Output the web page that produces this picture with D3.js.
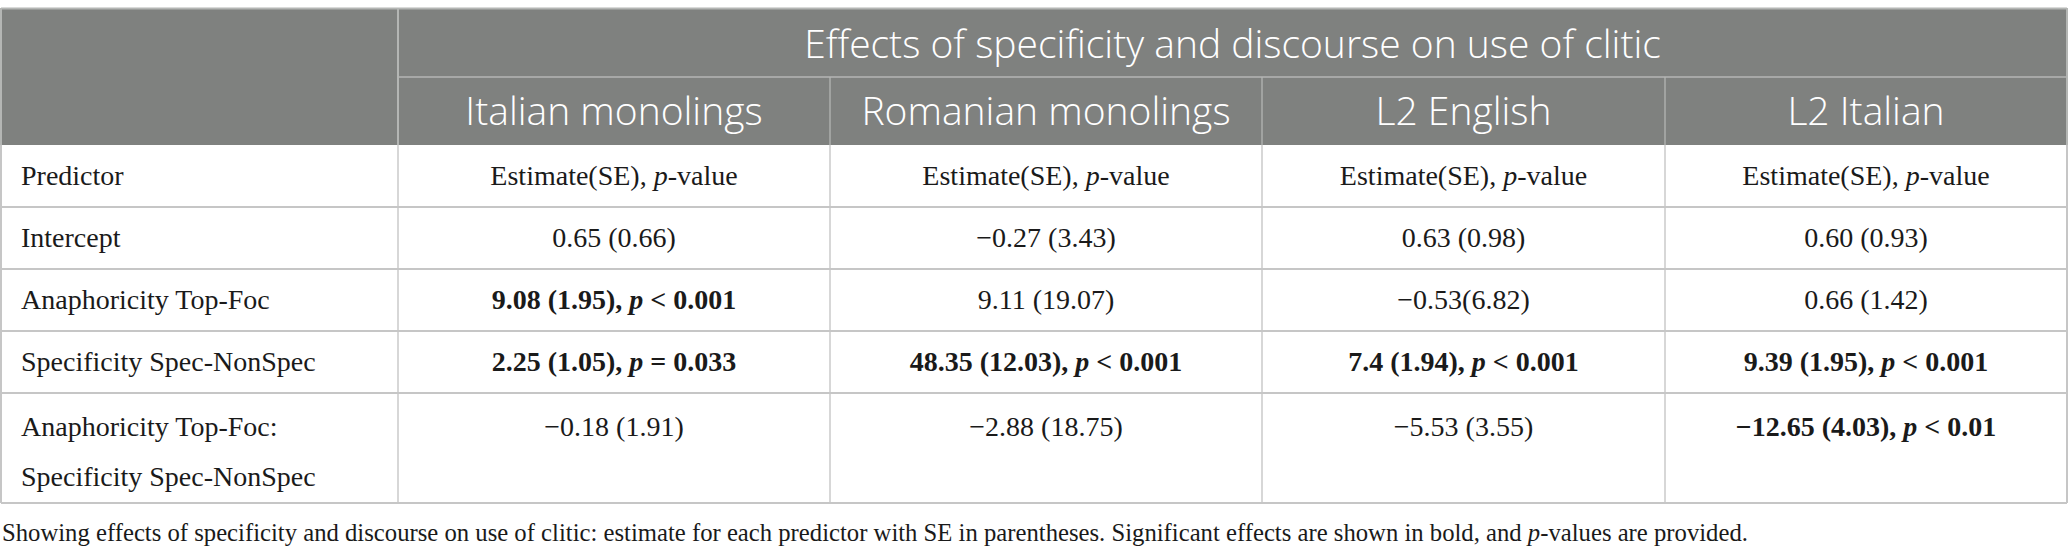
<!DOCTYPE html>
<html>
<head>
<meta charset="utf-8">
<script src="https://cdn.jsdelivr.net/npm/d3@7/dist/d3.min.js"></script>
<style>
  html, body { margin: 0; padding: 0; background: #fff; }
  svg { display: block; }
</style>
</head>
<body>
<svg id="chart" width="2068" height="560"></svg>
<script>
// ---- data ----
const title = "Effects of specificity and discourse on use of clitic";
const groups = ["Italian monolings", "Romanian monolings", "L2 English", "L2 Italian"];
const predictors = [
  ["Predictor"],
  ["Intercept"],
  ["Anaphoricity Top-Foc"],
  ["Specificity Spec-NonSpec"],
  ["Anaphoricity Top-Foc:", "Specificity Spec-NonSpec"]
];
// cell text; "*p*" marks the italic p
const italianMono = ["Estimate(SE), *p*-value", "0.65 (0.66)", "9.08 (1.95), *p* < 0.001", "2.25 (1.05), *p* = 0.033", "\u22120.18 (1.91)"];
const romanianMono = ["Estimate(SE), *p*-value", "\u22120.27 (3.43)", "9.11 (19.07)", "48.35 (12.03), *p* < 0.001", "\u22122.88 (18.75)"];
const l2English = ["Estimate(SE), *p*-value", "0.63 (0.98)", "\u22120.53(6.82)", "7.4 (1.94), *p* < 0.001", "\u22125.53 (3.55)"];
const l2Italian = ["Estimate(SE), *p*-value", "0.60 (0.93)", "0.66 (1.42)", "9.39 (1.95), *p* < 0.001", "\u221212.65 (4.03), *p* < 0.01"];
// significance (bold) flags per column
const italianBold = [false, false, true, true, false];
const romanianBold = [false, false, false, true, false];
const englishBold = [false, false, false, true, false];
const italianL2Bold = [false, false, false, true, true];
const caption = "Showing effects of specificity and discourse on use of clitic: estimate for each predictor with SE in parentheses. Significant effects are shown in bold, and *p*-values are provided.";

const columns = [italianMono, romanianMono, l2English, l2Italian];
const boldCols = [italianBold, romanianBold, englishBold, italianL2Bold];

// ---- layout ----
const colEdges = [1, 398, 830, 1262, 1665, 2067];
const rowEdges = [8, 77, 145, 207, 269, 331, 393, 503];
const headerFill = "#7f817f";
const lineColor = "#c6c6c6";
const headerLine = "#b4b6b4";
const serif = "'Liberation Serif', 'Times New Roman', serif";
const sans = "'Open Sans', 'Noto Sans', sans-serif";

const svg = d3.select("#chart");

const xCol = d3.scaleOrdinal().domain(d3.range(colEdges.length)).range(colEdges);
const yRow = d3.scaleOrdinal().domain(d3.range(rowEdges.length)).range(rowEdges);

// header background
svg.append("rect")
  .attr("x", xCol(0)).attr("y", yRow(0))
  .attr("width", xCol(5) - xCol(0)).attr("height", yRow(2) - yRow(0))
  .attr("fill", headerFill);

function addRich(sel, str, bold) {
  const parts = str.split("*");
  parts.forEach((p, i) => {
    if (p === "") return;
    const t = sel.append("tspan").text(p);
    if (i % 2 === 1) t.attr("font-style", "italic");
    if (bold) t.attr("font-weight", "bold");
  });
}

const hl = svg.append("g");
hl.append("line").attr("x1", xCol(0)).attr("x2", xCol(5)).attr("y1", yRow(0) + 0.5).attr("y2", yRow(0) + 0.5)
  .attr("stroke", headerLine).attr("stroke-width", 2);
hl.append("line").attr("x1", xCol(1)).attr("x2", xCol(5)).attr("y1", yRow(1)).attr("y2", yRow(1))
  .attr("stroke", headerLine).attr("stroke-width", 1.5);
hl.append("line").attr("x1", xCol(1)).attr("x2", xCol(1)).attr("y1", yRow(0)).attr("y2", yRow(2))
  .attr("stroke", headerLine).attr("stroke-width", 2);
[2, 3, 4].forEach(c => {
  hl.append("line").attr("x1", xCol(c)).attr("x2", xCol(c)).attr("y1", yRow(1)).attr("y2", yRow(2))
    .attr("stroke", headerLine).attr("stroke-width", 1.3);
});

// header texts
svg.append("text")
  .attr("x", (xCol(1) + xCol(5)) / 2).attr("y", (yRow(0) + yRow(1)) / 2 + 1)
  .attr("text-anchor", "middle").attr("dy", "0.36em")
  .attr("font-family", sans).attr("font-weight", 300).attr("font-size", 39)
  .attr("fill", "#fff").text(title);

svg.append("g").selectAll("text").data(groups).join("text")
  .attr("x", (d, i) => (xCol(i + 1) + xCol(i + 2)) / 2)
  .attr("y", (yRow(1) + yRow(2)) / 2)
  .attr("text-anchor", "middle").attr("dy", "0.36em")
  .attr("font-family", sans).attr("font-weight", 300).attr("font-size", 39)
  .attr("fill", "#fff").text(d => d);

// body lines
const bl = svg.append("g");
[3, 4, 5, 6, 7].forEach(r => {
  bl.append("line").attr("x1", xCol(0)).attr("x2", xCol(5)).attr("y1", yRow(r)).attr("y2", yRow(r))
    .attr("stroke", lineColor).attr("stroke-width", 2.2);
});
[0, 1, 2, 3, 4, 5].forEach(c => {
  bl.append("line").attr("x1", xCol(c)).attr("x2", xCol(c)).attr("y1", yRow(2)).attr("y2", yRow(7))
    .attr("stroke", lineColor).attr("stroke-width", c === 0 || c === 5 ? 2 : 1.4);
});
[0, 5].forEach(c => {
  hl.append("line").attr("x1", xCol(c)).attr("x2", xCol(c)).attr("y1", yRow(0)).attr("y2", yRow(2))
    .attr("stroke", headerLine).attr("stroke-width", 2);
});

const lineH = 50;
function rowCenter(r) {
  const top = yRow(r + 2), bottom = yRow(r + 3);
  const nLines = predictors[r].length;
  if (nLines === 1) return (top + bottom) / 2;
  return top + 34;
}

const fs = 28;
predictors.forEach((lines, r) => {
  const t = svg.append("text")
    .attr("font-family", serif).attr("font-size", fs).attr("fill", "#1a1a1a");
  lines.forEach((ln, k) => {
    t.append("tspan").attr("x", xCol(0) + 20).attr("y", rowCenter(r) + k * lineH).attr("dy", "0.33em").text(ln);
  });
});

columns.forEach((col, c) => {
  col.forEach((val, r) => {
    const t = svg.append("text")
      .attr("x", (xCol(c + 1) + xCol(c + 2)) / 2)
      .attr("y", rowCenter(r)).attr("dy", "0.33em")
      .attr("text-anchor", "middle")
      .attr("font-family", serif).attr("font-size", fs).attr("fill", "#1a1a1a");
    addRich(t, val, boldCols[c][r]);
  });
});

// caption
const cap = svg.append("text")
  .attr("x", 2).attr("y", 533).attr("dy", "0.33em")
  .attr("font-family", serif).attr("font-size", 24.7).attr("fill", "#1a1a1a");
addRich(cap, caption, false);
</script>
</body>
</html>
